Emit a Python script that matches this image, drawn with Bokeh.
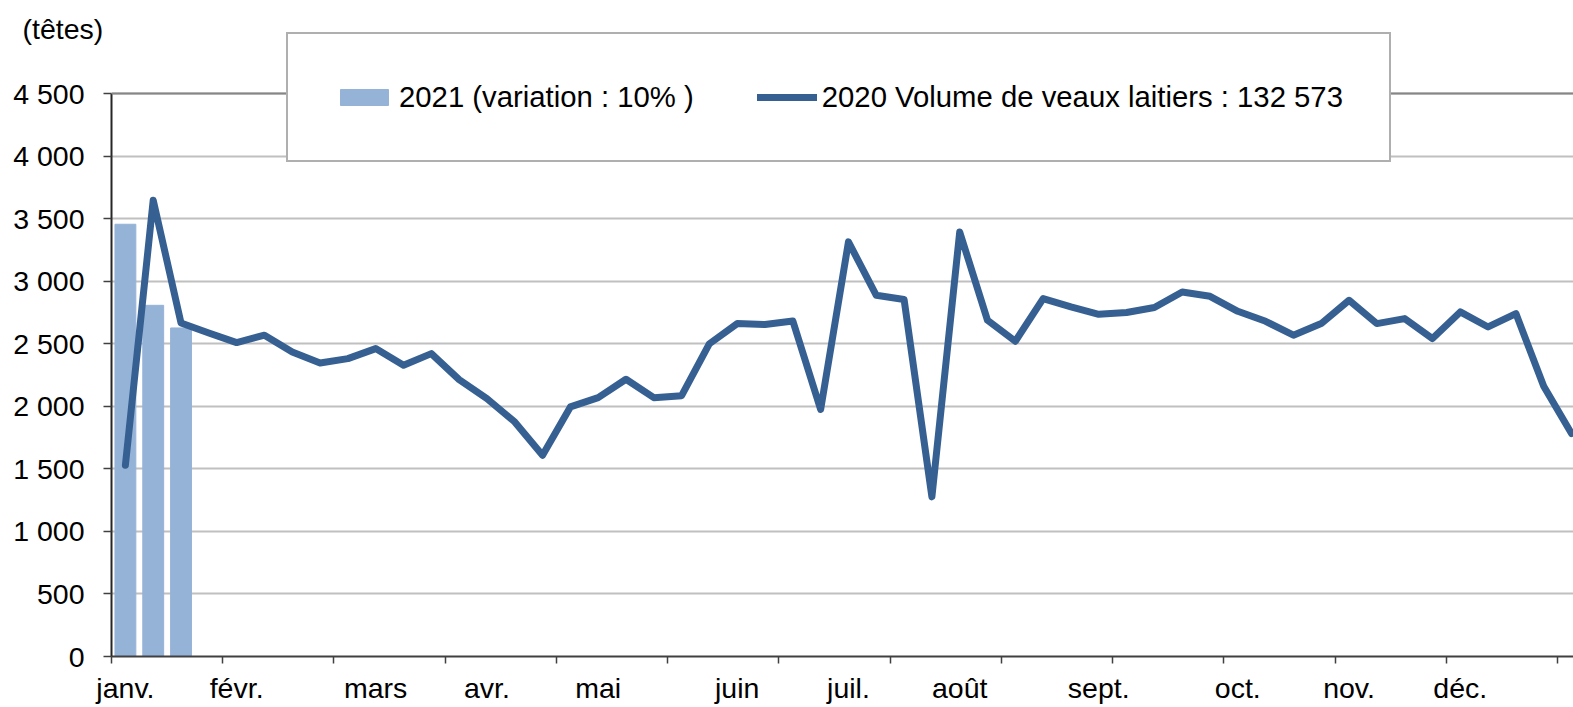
from bokeh.plotting import figure
from bokeh.models import Range1d, FixedTicker, Legend, LegendItem, Span, Label
from bokeh.embed import file_html
from bokeh.resources import INLINE

# ---- data ----
volume_2020 = [1529, 3647, 2666, 2586, 2509, 2568, 2434, 2346, 2381, 2461,
               2328, 2421, 2213, 2061, 1875, 1609, 1995, 2069, 2216, 2069,
               2085, 2500, 2661, 2653, 2682, 1974, 3314, 2887, 2853, 1276,
               3393, 2687, 2520, 2861, 2794, 2735, 2749, 2789, 2914, 2879,
               2759, 2679, 2568, 2661, 2847, 2661, 2701, 2541, 2754, 2634,
               2741, 2160, 1782]
volume_2021 = [3455, 2807, 2626]
month_labels = ["janv.", "févr.", "mars", "avr.", "mai", "juin", "juil.",
                "août", "sept.", "oct.", "nov.", "déc."]
month_week_index = [0, 4, 9, 13, 17, 22, 26, 30, 35, 40, 44, 48]
week_tick_boundaries = [0, 4, 8, 12, 16, 20, 24, 28, 32, 36, 40, 44, 48, 52]
y_ticks = [0, 500, 1000, 1500, 2000, 2500, 3000, 3500, 4000, 4500]
y_tick_labels = ["0", "500", "1 000", "1 500", "2 000", "2 500", "3 000",
                 "3 500", "4 000", "4 500"]
label_2021 = "2021 (variation : 10% )"
label_2020 = "2020 Volume de veaux laitiers : 132 573"
unit_label = "(têtes)"

# ---- layout / style constants ----
FONT = "Liberation Sans"
FS = "28.5px"
FS_LEG = "29.3px"
BAR_COLOR = "#95B3D7"
LINE_COLOR = "#376092"
W, H = 1573, 707
LEFT, TOP, BOTTOM = 111, 32, 51     # frame offsets in px
PLOT_H_DATA = 563                   # px between 0 and 4500
Y_MAX_AXIS = 4500
FRAME_H = H - BOTTOM - TOP
Y_TOP = Y_MAX_AXIS * FRAME_H / PLOT_H_DATA   # range extends above 4500 (legend room)
CAT_W = 27.81
X_END = (W - LEFT) / CAT_W

x2020 = [i + 0.5 for i in range(len(volume_2020))]
x2021 = [i + 0.5 for i in range(len(volume_2021))]

p = figure(width=W, height=H, output_backend="svg", toolbar_location=None,
           x_range=Range1d(0, X_END), y_range=Range1d(0, Y_TOP),
           min_border_left=LEFT, min_border_right=0, min_border_top=TOP,
           min_border_bottom=BOTTOM)
p.outline_line_color = None
p.background_fill_color = "white"
p.border_fill_color = "white"

# grid
p.xgrid.grid_line_color = None
p.ygrid.ticker = FixedTicker(ticks=y_ticks)
p.ygrid.grid_line_color = "#C0C0C0"
p.ygrid.grid_line_width = 2

r_bar = p.vbar(x=x2021, top=volume_2021, width=0.75, fill_color=BAR_COLOR,
               line_color=BAR_COLOR)
r_line = p.line(x2020, volume_2020, line_color=LINE_COLOR, line_width=7,
                line_join="round", line_cap="round")

# unit label "(têtes)" in the top panel
p.add_layout(Label(x=22 - LEFT, y=TOP - 28, x_units="screen",
                   y_units="screen", text=unit_label, text_font=FONT,
                   text_font_size=FS, text_baseline="middle",
                   text_line_height=0.5,
                   text_align="left", text_color="black"), "above")

# y axis bounded to 0..4500
yax = p.yaxis[0]
yax.bounds = (0, Y_MAX_AXIS)
yax.ticker = FixedTicker(ticks=y_ticks, minor_ticks=[])
yax.major_label_overrides = {t: l for t, l in zip(y_ticks, y_tick_labels)}
yax.major_label_text_font = FONT
yax.major_label_text_font_size = FS
yax.major_label_text_color = "black"
yax.major_label_standoff = 19
yax.major_tick_out = 8
yax.major_tick_in = 0
yax.minor_tick_line_color = None
yax.major_tick_line_color = "#404040"
yax.major_tick_line_width = 1.5
yax.axis_line_color = "#262626"
yax.axis_line_width = 2

# x axis
xax = p.xaxis[0]
label_pos = [i + 0.5 for i in month_week_index]
xax.ticker = FixedTicker(ticks=label_pos, minor_ticks=week_tick_boundaries)
xax.major_label_overrides = {pos: m for pos, m in zip(label_pos, month_labels)}
xax.major_label_text_font = FONT
xax.major_label_text_font_size = FS
xax.major_label_text_color = "black"
xax.major_label_standoff = 8
xax.major_tick_out = 0
xax.major_tick_in = 0
xax.minor_tick_out = 7
xax.minor_tick_in = 0
xax.minor_tick_line_color = "#404040"
xax.minor_tick_line_width = 1.5
xax.axis_line_color = "#404040"
xax.axis_line_width = 2

p.add_layout(Span(location=Y_MAX_AXIS, dimension="width",
                  line_color="#868686", line_width=2))

legend = Legend(items=[LegendItem(label=label_2021, renderers=[r_bar]),
                       LegendItem(label=label_2020, renderers=[r_line])],
                orientation="horizontal", location=(175, 494),
                padding=46, spacing=63, glyph_width=60, glyph_height=20,
                label_standoff=5, label_text_font=FONT,
                label_text_font_size=FS_LEG, label_text_color="black",
                border_line_color="#606060", border_line_width=2,
                background_fill_color="white", background_fill_alpha=1.0)
p.add_layout(legend, "center")

open("out.html", "w").write(file_html(p, INLINE))
